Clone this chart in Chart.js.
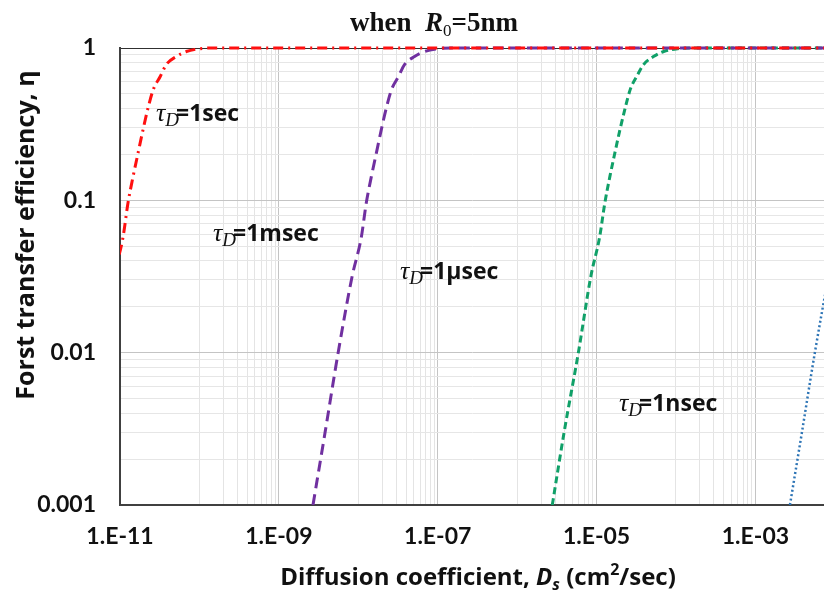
<!DOCTYPE html>
<html>
<head>
<meta charset="utf-8">
<script src="https://cdn.jsdelivr.net/npm/chart.js@4.4.1/dist/chart.umd.min.js"></script>
<style>
  html, body { margin: 0; padding: 0; background: #fff; overflow: hidden; }
</style>
</head>
<body>
<canvas id="chart" width="824" height="591"></canvas>
<script>
// efficiency levels
const etaLevels = [0.001, 0.003, 0.01, 0.032, 0.057, 0.096, 0.143, 0.205, 0.291, 0.406, 0.533, 0.65, 0.778, 0.879, 0.948, 0.99, 1, 1];

// diffusion coefficient (cm2/sec) where each curve reaches those levels
const dSec  = [2.69e-12, 3.8e-12, 5.6e-12, 8.4e-12, 1.09e-11, 1.26e-11, 1.46e-11, 1.69e-11, 1.95e-11, 2.26e-11, 2.62e-11, 3.21e-11, 3.82e-11, 5.11e-11, 6.84e-11, 1.03e-10, 1.5e-10, 1e-2];
const dMsec = [2.69e-9, 3.82e-9, 5.58e-9, 8.4e-9, 1.09e-8, 1.26e-8, 1.46e-8, 1.69e-8, 1.95e-8, 2.26e-8, 2.62e-8, 3.21e-8, 3.82e-8, 5.11e-8, 6.84e-8, 1.03e-7, 1.5e-7, 1e-2];
const dUsec = [2.77e-6, 3.9e-6, 5.9e-6, 8.5e-6, 1.09e-5, 1.27e-5, 1.47e-5, 1.7e-5, 1.97e-5, 2.3e-5, 2.65e-5, 3.2e-5, 3.9e-5, 5.2e-5, 7.0e-5, 1.05e-4, 1.5e-4, 1e-2];
const dNsec = [2.72e-3, 3.85e-3, 5.6e-3, 8.4e-3, 1.09e-2];

const xMajor = [1e-11, 1e-9, 1e-7, 1e-5, 1e-3];
const xTickLabels = ['1.E-11', '1.E-09', '1.E-07', '1.E-05', '1.E-03'];
const yMajor = [0.001, 0.01, 0.1, 1];
const yTickLabels = ['0.001', '0.01', '0.1', '1'];

// gridline positions: x minor lines fill every other decade, y minor lines every decade
const xGrid = xMajor.slice();
[-10, -8, -6, -4].forEach(p => { for (let k = 1; k <= 9; k++) xGrid.push(k * Math.pow(10, p)); });
xGrid.sort((a, b) => a - b);
const yGrid = yMajor.slice();
[-3, -2, -1].forEach(p => { for (let k = 2; k <= 9; k++) yGrid.push(k * Math.pow(10, p)); });
yGrid.sort((a, b) => a - b);

function majorIndex(list, v) {
  return list.findIndex(m => Math.abs(Math.log10(m) - Math.log10(v)) < 1e-6);
}

function toPoints(xs) {
  return xs.map((x, i) => ({ x: x, y: etaLevels[i] }));
}

function curve(xs, color, dash, width) {
  return {
    data: toPoints(xs),
    showLine: true,
    borderColor: color,
    borderWidth: width,
    borderDash: dash,
    pointRadius: 0,
    fill: false,
    cubicInterpolationMode: 'monotone',
    clip: { left: 0, top: 3, right: 0, bottom: 0 }
  };
}

// draws a run of differently styled text pieces on one baseline
function drawRuns(ctx, runs, x, y, align) {
  let total = 0;
  runs.forEach(r => { ctx.font = r.font; total += ctx.measureText(r.t).width + (r.kern || 0); });
  let cx = align === 'center' ? x - total / 2 : x;
  runs.forEach(r => {
    ctx.font = r.font;
    ctx.fillStyle = '#111';
    ctx.textBaseline = 'alphabetic';
    ctx.textAlign = 'left';
    ctx.fillText(r.t, cx, y + (r.dy || 0));
    cx += ctx.measureText(r.t).width + (r.kern || 0);
  });
}

const SANS = 'Lato';
const WIDE = '"Open Sans"';
const SERIF = '"Liberation Serif"';

function tauLabel(ctx, rest, x, y) {
  drawRuns(ctx, [
    { t: 'τ', font: 'italic 26px ' + SERIF },
    { t: 'D', font: 'italic 19px ' + SERIF, dy: 5, kern: -3 },
    { t: '=' + rest, font: 'bold 23px ' + WIDE }
  ], x, y, 'left');
}

const textPlugin = {
  id: 'texts',
  afterDraw(chart) {
    const ctx = chart.ctx;
    ctx.save();
    drawRuns(ctx, [
      { t: 'when  ', font: 'bold 27px ' + SERIF },
      { t: 'R', font: 'italic bold 27px ' + SERIF },
      { t: '0', font: '17px ' + SERIF, dy: 5 },
      { t: '=5nm', font: 'bold 27px ' + SERIF }
    ], 434, 31, 'center');

    drawRuns(ctx, [
      { t: 'Diffusion coefficient, ', font: 'bold 24px ' + WIDE },
      { t: 'D', font: 'italic bold 24px ' + WIDE },
      { t: 's', font: 'italic bold 16px ' + WIDE, dy: 5 },
      { t: ' (cm', font: 'bold 24px ' + WIDE },
      { t: '2', font: 'bold 16px ' + WIDE, dy: -10 },
      { t: '/sec)', font: 'bold 24px ' + WIDE }
    ], 478, 585, 'center');

    ctx.save();
    ctx.translate(34, 235);
    ctx.rotate(-Math.PI / 2);
    drawRuns(ctx, [{ t: 'Forst transfer efficiency, η', font: 'bold 25px ' + WIDE }], 0, 0, 'center');
    ctx.restore();

    tauLabel(ctx, '1sec', 156, 121);
    tauLabel(ctx, '1msec', 213, 241);
    tauLabel(ctx, '1μsec', 400, 279);
    tauLabel(ctx, '1nsec', 619, 411);
    ctx.restore();
  }
};

new Chart(document.getElementById('chart'), {
  type: 'scatter',
  data: {
    datasets: [
      curve(dSec, '#ff1010', [10, 5, 2, 5], 3),
      curve(dMsec, '#7030a0', [11, 6], 3),
      curve(dUsec, '#10a068', [7, 4], 3),
      curve(dNsec, '#2e75b6', [2, 2.5], 2.5)
    ]
  },
  options: {
    responsive: false,
    animation: false,
    devicePixelRatio: 1,
    layout: { padding: { top: 48, right: 0, left: 0, bottom: 0 } },
    plugins: { legend: { display: false }, tooltip: { enabled: false } },
    scales: {
      x: {
        type: 'logarithmic',
        min: 1e-11,
        max: 7.3e-3,
        afterBuildTicks: s => { s.ticks = xGrid.map(v => ({ value: v })); },
        afterFit: s => { s.height = 86; },
        border: { color: '#404040', width: 2 },
        grid: {
          drawTicks: false,
          color: c => majorIndex(xMajor, c.tick.value) >= 0 ? '#c4c4c4' : '#e4e4e4'
        },
        ticks: {
          autoSkip: false,
          maxRotation: 0,
          minRotation: 0,
          padding: 18,
          color: '#111',
          font: { family: SANS, weight: 'bold', size: 23 },
          callback: v => { const i = majorIndex(xMajor, v); return i >= 0 ? xTickLabels[i] : ''; }
        }
      },
      y: {
        type: 'logarithmic',
        min: 0.001,
        max: 1,
        afterBuildTicks: s => { s.ticks = yGrid.map(v => ({ value: v })); },
        afterFit: s => { s.width = 120; },
        border: { color: '#404040', width: 2 },
        grid: {
          drawTicks: false,
          color: c => {
            const i = majorIndex(yMajor, c.tick.value);
            if (i === 3) return '#303030';
            return i >= 0 ? '#c4c4c4' : '#e6e6e6';
          }
        },
        ticks: {
          autoSkip: false,
          padding: 24,
          color: '#111',
          font: { family: SANS, weight: 'bold', size: 23 },
          callback: v => { const i = majorIndex(yMajor, v); return i >= 0 ? yTickLabels[i] : ''; }
        }
      }
    }
  },
  plugins: [textPlugin]
});
</script>
</body>
</html>
